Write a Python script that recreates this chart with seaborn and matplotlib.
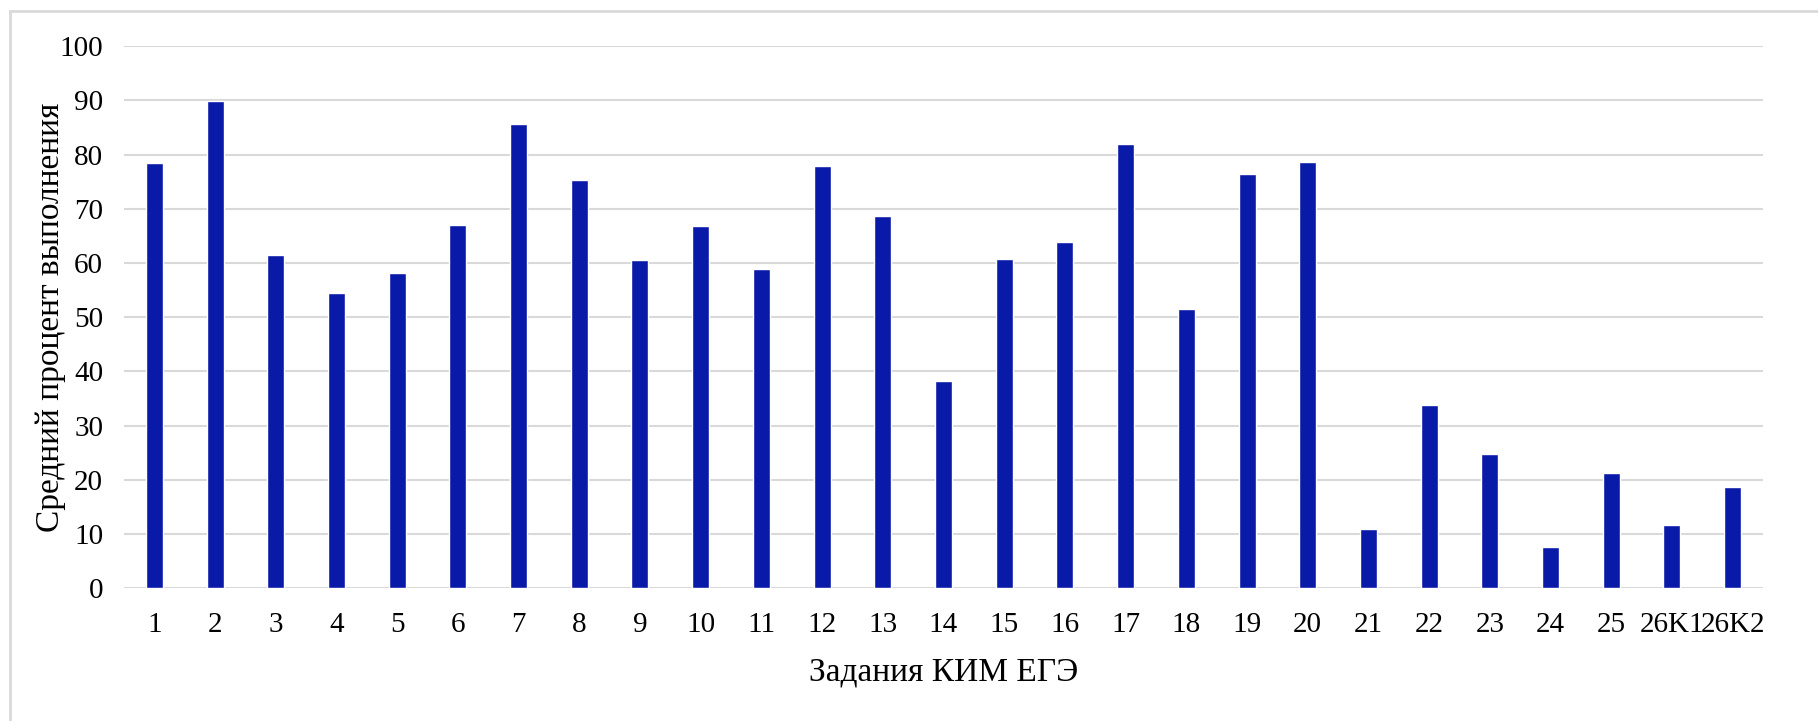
import matplotlib
matplotlib.use("Agg")
import matplotlib.pyplot as plt
import seaborn as sns
import pandas as pd
from matplotlib.patches import Rectangle

categories = ["1", "2", "3", "4", "5", "6", "7", "8", "9", "10", "11", "12", "13", "14",
              "15", "16", "17", "18", "19", "20", "21", "22", "23", "24", "25", "26K1", "26K2"]
values = [78.4, 89.9, 61.5, 54.4, 58.1, 67.0, 85.6, 75.3, 60.5, 66.8, 58.9, 77.9, 68.7, 38.2,
          60.8, 63.9, 81.9, 51.5, 76.4, 78.7, 11.0, 33.8, 24.7, 7.6, 21.3, 11.6, 18.6]
yticks = [0, 10, 20, 30, 40, 50, 60, 70, 80, 90, 100]
xlabel = "Задания КИМ ЕГЭ"
ylabel = "Средний процент выполнения"

sns.set_theme(style="white")
plt.rcParams['font.family'] = ['Liberation Serif', 'DejaVu Serif']

W, H, DPI = 1818, 721, 100
fig = plt.figure(figsize=(W / DPI, H / DPI), dpi=DPI)
ax = fig.add_axes([124 / W, 1 - 588.3 / H, (1763 - 124) / W, (588.3 - 46.3) / H])

df = pd.DataFrame({"task": categories, "value": values})
sns.barplot(data=df, x="task", y="value", order=categories, color="#0A1AA8",
            saturation=1, width=0.28, ax=ax, zorder=3)

ax.set_ylim(0, 100)
ax.set_xlim(-0.5, len(categories) - 0.5)
ax.set_yticks(yticks)
ax.set_yticklabels([str(t) for t in yticks])
ax.yaxis.grid(True, color="#D9D9D9", linewidth=1.5, zorder=0)
ax.xaxis.grid(False)
ax.set_axisbelow(True)
for s in ax.spines.values():
    s.set_visible(False)
ax.tick_params(axis="both", length=0, labelsize=21, colors="black")
ax.tick_params(axis="y", pad=15)
ax.tick_params(axis="x", pad=17)
ax.set_xlabel(xlabel, fontsize=24, color="black", labelpad=14)
ax.set_ylabel(ylabel, fontsize=24, color="black", labelpad=-5)

fig.patches.append(Rectangle((10 / W, -0.1), 1.2, 1 - 11 / H + 0.1, transform=fig.transFigure,
                             fill=False, edgecolor="#D9D9D9", linewidth=2, zorder=0))

fig.savefig("out.png", dpi=DPI)
